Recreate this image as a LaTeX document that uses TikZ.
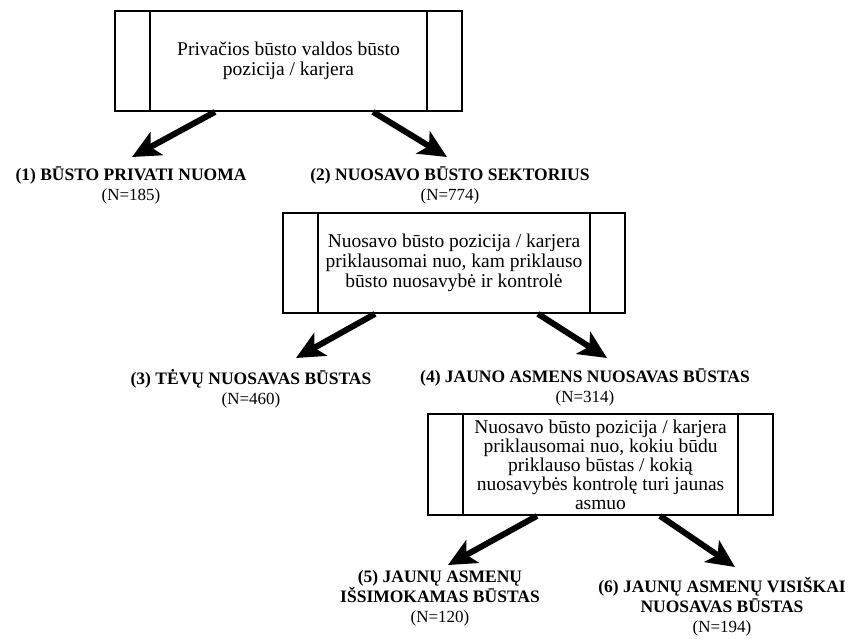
\documentclass[tikz,border=0pt]{standalone}
\usepackage{fontspec}
\setmainfont{Liberation Serif}
\usetikzlibrary{positioning,arrows.meta}

\begin{document}
\begin{tikzpicture}[x=1pt, y=-1pt,
  procbox/.style = {draw=black, line width=1.8pt, align=center, inner sep=0pt,
    minimum height=100pt, font=\fontsize{19.5}{20}\selectfont,
    path picture={\draw[line width=1.8pt]
      ([xshift=35pt]path picture bounding box.north west) -- ([xshift=35pt]path picture bounding box.south west)
      ([xshift=-35pt]path picture bounding box.north east) -- ([xshift=-35pt]path picture bounding box.south east);}},
  grouplabel/.style = {align=center, anchor=north, inner sep=0pt, font=\fontsize{17.5}{20}\selectfont},
  bigarrow/.style = {line width=6pt, -{Stealth[length=28pt,width=26pt,inset=7pt]}}]
\useasboundingbox (0,0) rectangle (849,638);

% boxes
\node[procbox, minimum width=347pt] (privati) at (288.5,61) {Privačios būsto valdos būsto\\pozicija / karjera};
\node[procbox, minimum width=342pt] (nuosavas) at (454,263) {Nuosavo būsto pozicija / karjera\\priklausomai nuo, kam priklauso\\būsto nuosavybė ir kontrolė};
\node[procbox, minimum width=345pt, minimum height=101pt, font=\fontsize{19.5}{19}\selectfont] (budas) at (600.5,464.5) {Nuosavo būsto pozicija / karjera\\priklausomai nuo, kokiu būdu\\priklauso būstas / kokią\\nuosavybės kontrolę turi jaunas\\asmuo};

% groups
\node[grouplabel] (nuoma) at (131,167) {\textbf{(1) BŪSTO PRIVATI NUOMA}\\{\fontsize{17}{20}\selectfont (N=185)}};
\node[grouplabel] (sektorius) at (450,167) {\textbf{(2) NUOSAVO BŪSTO SEKTORIUS}\\{\fontsize{17}{20}\selectfont (N=774)}};
\node[grouplabel] (tevu) at (251,369) {\textbf{(3) TĖVŲ NUOSAVAS BŪSTAS}\\{\fontsize{17}{20}\selectfont (N=460)}};
\node[grouplabel] (jaunoasm) at (585,369) {\textbf{(4) JAUNO ASMENS NUOSAVAS BŪSTAS}\\{\fontsize{17}{20}\selectfont (N=314)}};
\node[grouplabel] (issimok) at (440,570) {\textbf{(5) JAUNŲ ASMENŲ}\\\textbf{IŠSIMOKAMAS BŪSTAS}\\{\fontsize{17}{20}\selectfont (N=120)}};
\node[grouplabel] (visiskai) at (722,577) {\textbf{(6) JAUNŲ ASMENŲ VISIŠKAI}\\\textbf{NUOSAVAS BŪSTAS}\\{\fontsize{17}{20}\selectfont (N=194)}};

% arrows
\draw[bigarrow] ([xshift=-73.5pt]privati.south) -- ([xshift=1pt,yshift=10pt]nuoma.north);
\draw[bigarrow] ([xshift=84.5pt]privati.south) -- ([xshift=-3pt,yshift=10pt]sektorius.north);
\draw[bigarrow] ([xshift=-79pt]nuosavas.south) -- ([xshift=45pt,yshift=11pt]tevu.north);
\draw[bigarrow] ([xshift=84pt]nuosavas.south) -- ([xshift=22pt,yshift=11pt]jaunoasm.north);
\draw[bigarrow] ([xshift=-63.5pt]budas.south) -- ([xshift=8pt,yshift=5pt]issimok.north);
\draw[bigarrow] ([xshift=59.5pt]budas.south) -- ([xshift=13pt,yshift=10pt]visiskai.north);
\end{tikzpicture}
\end{document}
